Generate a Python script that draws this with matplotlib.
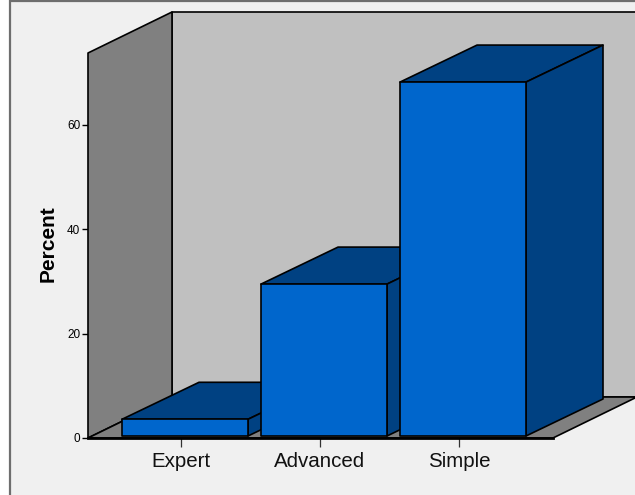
import matplotlib
matplotlib.use("Agg")
import matplotlib.pyplot as plt
from matplotlib.patches import Polygon, Rectangle

categories = ["Expert", "Advanced", "Simple"]
percent = [3.2, 29.1, 67.8]
y_ticks = [0, 20, 40, 60]

W, H = 635, 495
DPI = 100

BG = "#f0f0f0"
WALL_BACK = "#c0c0c0"
WALL_SIDE = "#808080"
BAR_FRONT = "#0066cc"
BAR_DARK = "#004182"

fig = plt.figure(figsize=(W / DPI, H / DPI), dpi=DPI, facecolor="white")

# frame behind the whole chart
fig.add_artist(Rectangle((9.5 / W, -0.1), 1, 1.1 - 1.5 / H, transform=fig.transFigure,
                         facecolor=BG, edgecolor="#6e6e6e", linewidth=1.6, zorder=-5))

# axes box is the front plane of the 3D room, 88..553 px wide, 53..438 px tall
ax = fig.add_axes([88 / W, 1 - 438 / H, (553 - 88) / W, (438 - 53) / H])
ax.patch.set_visible(False)
for name in ["top", "right", "left"]:
    ax.spines[name].set_visible(False)
ax.spines["bottom"].set_linewidth(2.0)

px_x = 139.0   # pixels per category
px_y = 5.22    # pixels per percent
ax.set_xlim((88 - 185) / px_x, (553 - 185) / px_x)
ax.set_ylim(0, (438 - 53) / px_y)

room_dx = 84 / px_x
room_dy = 41 / px_y
bar_dx = 77 / px_x
bar_dy = 37 / px_y
bar_w = 126 / px_x
base = 2 / px_y
tick_shift = 4 / px_x

x0, x1 = ax.get_xlim()
y1 = ax.get_ylim()[1]


def face(points, color, z):
    ax.add_patch(Polygon(points, closed=True, facecolor=color, edgecolor="black",
                         linewidth=1.2, joinstyle="round", clip_on=False, zorder=z))


# back wall, side wall and floor
face([(x0 + room_dx, room_dy), (x1 + room_dx + 1, room_dy), (x1 + room_dx + 1, y1 + room_dy),
      (x0 + room_dx, y1 + room_dy)], WALL_BACK, 1)
face([(x0, 0), (x0 + room_dx, room_dy), (x0 + room_dx, y1 + room_dy), (x0, y1)], WALL_SIDE, 2)
face([(x0, 0), (x1, 0), (x1 + room_dx, room_dy), (x0 + room_dx, room_dy)], WALL_SIDE, 2)

# bars go left to right so each one covers the side of the previous
for i, val in enumerate(percent):
    left = i - bar_w / 2
    right = i + bar_w / 2
    top = val + base
    z = 3 + i
    face([(left, top), (right, top), (right + bar_dx, top + bar_dy), (left + bar_dx, top + bar_dy)],
         BAR_DARK, z)
    face([(right, base), (right + bar_dx, base + bar_dy), (right + bar_dx, top + bar_dy), (right, top)],
         BAR_DARK, z)
    face([(left, base), (right, base), (right, top), (left, top)], BAR_FRONT, z)

ax.spines["bottom"].set_zorder(10)

ax.set_xticks([i - tick_shift for i in range(len(categories))])
ax.set_xticklabels(categories, fontsize=14.8, family="Liberation Sans", color="#111111")
ax.tick_params(axis="x", length=6.5, width=0.9, color="#333333", pad=3.4)
ax.set_yticks(y_ticks)
ax.set_yticklabels([str(v) for v in y_ticks], fontsize=8.5, family="Liberation Sans")
ax.tick_params(axis="y", length=4.5, width=1, pad=1)
ax.set_ylabel("Percent", fontsize=15, family="Liberation Sans", fontweight="bold", labelpad=7, y=0.505)

fig.savefig("out.png", dpi=DPI, facecolor=fig.get_facecolor())
